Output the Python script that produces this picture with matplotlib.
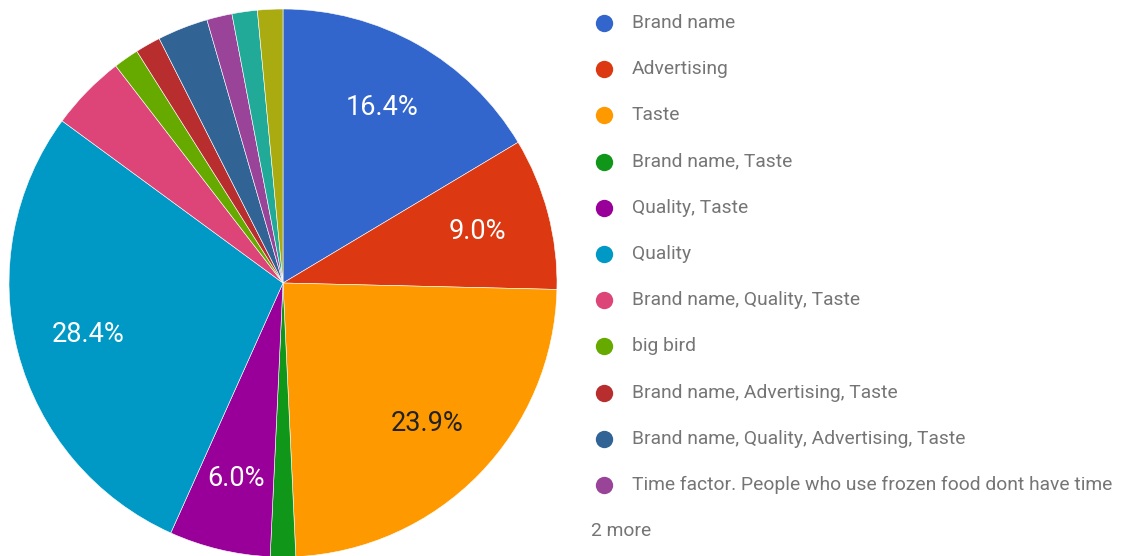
import matplotlib
matplotlib.use("Agg")
import matplotlib.pyplot as plt
from matplotlib.lines import Line2D

plt.rcParams['font.family'] = ['Roboto', 'DejaVu Sans']

# survey answers (response counts)
labels = ['Brand name', 'Advertising', 'Taste', 'Brand name, Taste', 'Quality, Taste',
          'Quality', 'Brand name, Quality, Taste', 'big bird',
          'Brand name, Advertising, Taste', 'Brand name, Quality, Advertising, Taste',
          'Time factor. People who use frozen food dont have time',
          'Other 1', 'Other 2']
counts = [11, 6, 16, 1, 4, 19, 3, 1, 1, 2, 1, 1, 1]
colors = ['#3366cc', '#dc3912', '#ff9900', '#109618', '#990099', '#0099c6',
          '#dd4477', '#66aa00', '#b82e2e', '#316395', '#994499', '#22aa99', '#aaaa11']
shown = 11

W, H = 1128, 556
fig = plt.figure(figsize=(W / 100, H / 100), dpi=100)

cx, cy, r = 283, 283, 274
ax = fig.add_axes([(cx - r) / W, (H - cy - r) / H, 2 * r / W, 2 * r / H])

def pct(p):
    return '%.1f%%' % p if p > 5 else ''

wedges, texts, autotexts = ax.pie(counts, colors=colors, startangle=90, counterclock=False,
                                  autopct=pct, pctdistance=0.735,
                                  wedgeprops=dict(edgecolor='white', linewidth=0.4),
                                  textprops=dict(color='white', fontsize=19.5))
for t, c in zip(autotexts, colors):
    if c == '#ff9900':
        t.set_color('#222222')
ax.set_aspect('equal')
ax.set_xlim(-1, 1)
ax.set_ylim(-1, 1)

# legend, drawn in figure pixel coords
x0 = 604
ys = [23 + i * 46.2 for i in range(shown)]
for y, lab, c in zip(ys, labels, colors):
    fig.add_artist(Line2D([x0 / W], [1 - y / H], marker='o', markersize=12.5,
                          color=c, markeredgewidth=0, transform=fig.transFigure))
    fig.text(632 / W, 1 - y / H, lab, fontsize=13.9, color='#757575', va='center', ha='left')
fig.text(591 / W, 1 - 531 / H, '2 more', fontsize=13.9, color='#757575', va='center', ha='left')

fig.savefig('out.png', dpi=100, facecolor='white')
